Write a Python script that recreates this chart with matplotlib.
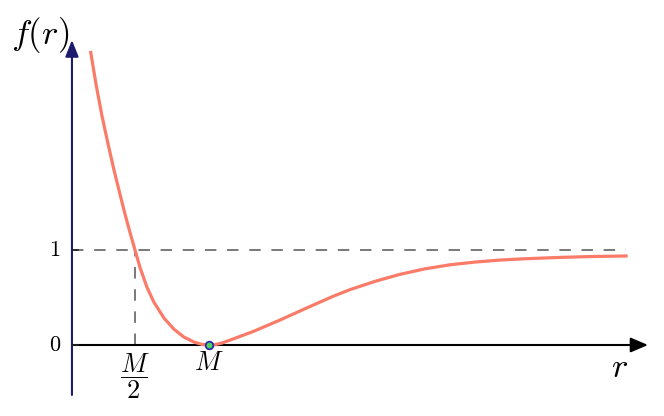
import matplotlib
matplotlib.use("Agg")
import matplotlib.pyplot as plt

plt.rcParams["mathtext.fontset"] = "cm"

# curve values (r in units of M)
r_vals = [0.201, 0.237, 0.277, 0.318, 0.358, 0.399, 0.432, 0.466, 0.500,
          0.534, 0.581, 0.628, 0.696, 0.764, 0.831, 0.899, 0.953, 1.000,
          1.041, 1.088, 1.162, 1.297, 1.480, 1.662, 1.838, 1.953, 2.122,
          2.291, 2.460, 2.628, 2.797, 2.966, 3.122, 3.351, 3.574, 3.818]
f_vals = [3.079, 2.742, 2.411, 2.116, 1.842, 1.584, 1.381, 1.185, 1.000,
          0.815, 0.607, 0.450, 0.283, 0.165, 0.083, 0.031, 0.006, 0.000,
          0.004, 0.021, 0.063, 0.141, 0.263, 0.391, 0.512, 0.583, 0.670,
          0.744, 0.802, 0.844, 0.873, 0.894, 0.907, 0.921, 0.931, 0.937]

y_ticks = [0, 1]
y_tick_labels = ["$0$", "$1$"]
x_marks = [0.5, 1.0]
x_mark_labels = [r"$\dfrac{M}{2}$", "$M$"]
min_point = (1.0, 0.0)

axis_r = 0.074      # where the vertical axis sits
r_end = 3.966       # tip of the horizontal arrow
f_top = 3.21        # tip of the vertical arrow
f_bottom = -0.526
dash_end = 3.82

fig = plt.figure(figsize=(6.64, 4.16), dpi=100)
ax = fig.add_axes([0, 0, 1, 1])
ax.set_xlim(-61 / 148, 603 / 148)
ax.set_ylim(-71 / 95, 345 / 95)
ax.axis("off")

navy = "#1e1a6e"
dash_style = (0, (7.5, 7))

# dashed guides
ax.plot([axis_r, dash_end], [1, 1], ls=dash_style, color="#555555", lw=1.1, zorder=1)
ax.plot([0.5, 0.5], [0, 1], ls=dash_style, color="#555555", lw=1.1, zorder=1)

# axes with arrows
ax.annotate("", xy=(r_end, 0), xytext=(axis_r, 0),
            arrowprops=dict(arrowstyle="-|>,head_length=1.05,head_width=0.45",
                            mutation_scale=10, lw=1.5, color="black",
                            shrinkA=0, shrinkB=0), zorder=2)
ax.annotate("", xy=(axis_r, f_top), xytext=(axis_r, f_bottom),
            arrowprops=dict(arrowstyle="-|>,head_length=1.0,head_width=0.4",
                            mutation_scale=10, lw=1.5, color=navy,
                            shrinkA=0, shrinkB=0), zorder=2)

# small ticks on the vertical axis
for t in y_ticks:
    ax.plot([axis_r, axis_r + 0.04], [t, t], color="#222222", lw=1.2, zorder=2)
for t, lab in zip(y_ticks, y_tick_labels):
    ax.text(axis_r - 0.075, t, lab, ha="right", va="center", fontsize=16)

# labels on the horizontal axis
ax.text(x_marks[0], -0.332, x_mark_labels[0], ha="center", va="center", fontsize=19)
ax.text(x_marks[1], -0.185, x_mark_labels[1], ha="center", va="center", fontsize=19)

# curve
ax.plot(r_vals, f_vals, color="#fa7b68", lw=2.3, zorder=3)
ax.plot(*min_point, "o", ms=5.5, mfc="#4fd65a", mec="#2b2bb0", mew=1.3, zorder=4)

# axis names
ax.text(-0.142, 3.263, "$f(r)$", ha="center", va="center", fontsize=25)
ax.text(3.777, -0.232, "$r$", ha="center", va="center", fontsize=25)

fig.savefig("out.png", dpi=100)
